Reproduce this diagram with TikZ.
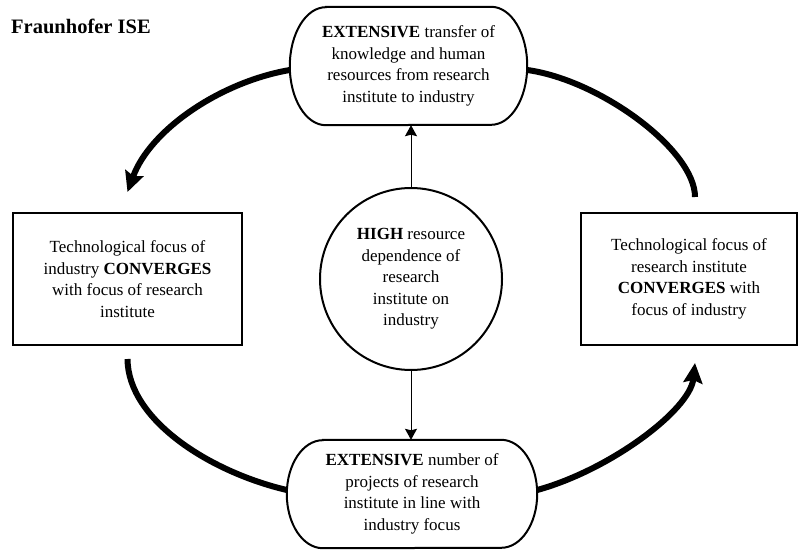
\documentclass[tikz,border=0pt]{standalone}
\usepackage{fontspec}
\setmainfont{Liberation Serif}
\usetikzlibrary{arrows.meta}
\begin{document}
\begin{tikzpicture}[x=1pt,y=1pt,
  txt/.style={font=\fontsize{17}{21.5}\selectfont, align=center, inner sep=0pt},
  boxnode/.style={txt, draw, line width=2pt, minimum height=132pt},
  stadnode/.style={txt, minimum width=#1},
  circnode/.style={txt, draw, circle, line width=2pt, minimum size=182pt},
  bigflow/.style={line width=6pt},
  bighead/.style={-{Stealth[length=20pt,width=19pt,inset=3pt]}},
  thinflow/.style={line width=1pt, -{Stealth[length=11pt,width=12pt,inset=1.5pt]}},
  outline/.style={line width=2pt}
]
\useasboundingbox[fill=white] (0,0) rectangle (800,550);

\node[anchor=base west, font=\fontsize{20.5}{24}\selectfont\bfseries, inner sep=0pt] (title) at (11,516) {Fraunhofer ISE};

% top stadium
\node[stadnode=237pt, minimum height=118pt] (top) at (408.5,484) {\textbf{EXTENSIVE} transfer of\\knowledge and human\\resources from research\\institute to industry};
\draw[outline] ([xshift=36pt]top.north west) -- ([xshift=-36pt]top.north east)
  arc[start angle=90,end angle=-90,x radius=36pt,y radius=59pt]
  -- ([xshift=36pt]top.south west)
  arc[start angle=270,end angle=90,x radius=36pt,y radius=59pt] -- cycle;

% bottom stadium
\node[stadnode=250pt, minimum height=108pt] (bot) at (412,56) {\textbf{EXTENSIVE} number of\\projects of research\\institute in line with\\industry focus};
\draw[outline] ([xshift=36pt]bot.north west) -- ([xshift=-36pt]bot.north east)
  arc[start angle=90,end angle=-90,x radius=36pt,y radius=54pt]
  -- ([xshift=36pt]bot.south west)
  arc[start angle=270,end angle=90,x radius=36pt,y radius=54pt] -- cycle;

% centre circle
\node[circnode] (mid) at (411,271) {\textbf{HIGH} resource\\dependence of\\research\\institute on\\industry};

% side boxes
\node[boxnode, minimum width=229pt] (left) at (127.5,271) {Technological focus of\\industry \textbf{CONVERGES}\\with focus of research\\institute};
\node[boxnode, minimum width=216pt] (right) at (689,271) {Technological focus of\\research institute\\\textbf{CONVERGES} with\\focus of industry};

% thin arrows
\draw[thinflow] (mid.north) -- (mid.north |- top.south);
\draw[thinflow] (mid.south) -- (mid.south |- bot.north);

% thick curved flows
\coordinate (tl) at ([yshift=-4pt]top.west);
\coordinate (lt) at ([yshift=20pt]left.north);
\draw[bigflow, bighead] (tl) .. controls (220,468) and (150,420) .. (lt);

\coordinate (lb) at ([yshift=-13pt]left.south);
\coordinate (bl) at ([yshift=4pt]bot.west);
\draw[bigflow] (lb) .. controls (128,130) and (210,78) .. (bl);

\coordinate (br) at ([yshift=4pt]bot.east);
\coordinate (rb) at ([xshift=6pt,yshift=-17pt]right.south);
\draw[bigflow, bighead] (br) .. controls (610,80) and (690,140) .. (rb);

\coordinate (rt) at ([xshift=6pt,yshift=15pt]right.north);
\coordinate (tr) at ([yshift=-4pt]top.east);
\draw[bigflow] (rt) .. controls (695,400) and (600,470) .. (tr);
\end{tikzpicture}
\end{document}
